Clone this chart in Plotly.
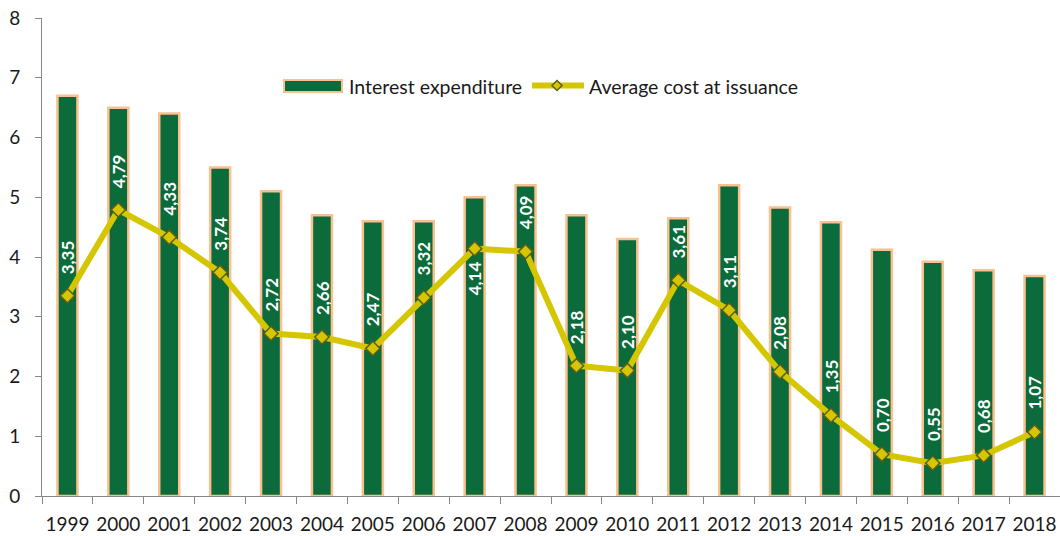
import plotly.graph_objects as go

# Years shown on the category axis
years = [str(y) for y in range(1999, 2019)]

# Interest expenditure (% of GDP)
interest_expenditure = [6.7, 6.5, 6.4, 5.5, 5.1, 4.7, 4.6, 4.6, 5.0, 5.2,
                        4.7, 4.3, 4.65, 5.2, 4.83, 4.58, 4.12, 3.92, 3.78, 3.68]

# Average cost at issuance (%)
average_cost = [3.35, 4.79, 4.33, 3.74, 2.72, 2.66, 2.47, 3.32, 4.14, 4.09,
                2.18, 2.10, 3.61, 3.11, 2.08, 1.35, 0.70, 0.55, 0.68, 1.07]

# Labels that sit under their marker instead of above it
labels_below = {"2007"}

GREEN = "#0B6B3B"
ORANGE = "#FAC08F"
YELLOW = "#D4C600"
OLIVE = "#5C5C1E"
FONT = "Lato"

W, H = 1060, 536
ML, MR, MT, MB = 42, 0, 18, 40
PW, PH = W - ML - MR, H - MT - MB


def px_x(px):
    return (px - ML) / PW


def px_y(py):
    return (H - MB - py) / PH


fig = go.Figure()

fig.add_trace(go.Bar(
    x=years, y=interest_expenditure, name="Interest expenditure",
    marker=dict(color=GREEN, line=dict(color=ORANGE, width=2.5)),
    showlegend=False, hoverinfo="x+y",
))

fig.add_trace(go.Scatter(
    x=years, y=average_cost, name="Average cost at issuance",
    mode="lines+markers",
    line=dict(color=YELLOW, width=6),
    marker=dict(symbol="diamond", size=11, color=YELLOW,
                line=dict(color=OLIVE, width=1.5)),
    showlegend=False, hoverinfo="x+y",
))

annotations = []
for i, (yr, v) in enumerate(zip(years, average_cost)):
    below = yr in labels_below
    annotations.append(dict(
        x=i, y=v, xref="x", yref="y",
        text=f"<b>{v:.2f}</b>".replace(".", ","),
        textangle=-90, showarrow=False,
        xanchor="center", yanchor="top" if below else "bottom",
        yshift=-11 if below else 20,
        font=dict(family=FONT, size=17, color="white"),
    ))

# Legend drawn by hand
annotations.append(dict(
    x=px_x(347), y=px_y(86), xref="paper", yref="paper",
    text="Interest expenditure", showarrow=False,
    xanchor="left", yanchor="middle",
    font=dict(family=FONT, size=19.5, color="#1a1a1a"),
))
annotations.append(dict(
    x=px_x(587), y=px_y(86), xref="paper", yref="paper",
    text="Average cost at issuance", showarrow=False,
    xanchor="left", yanchor="middle",
    font=dict(family=FONT, size=19.5, color="#1a1a1a"),
))

shapes = [
    dict(type="rect", xref="paper", yref="paper",
         x0=px_x(284), x1=px_x(342), y0=px_y(92), y1=px_y(80),
         fillcolor=GREEN, line=dict(color=ORANGE, width=2)),
    dict(type="line", xref="paper", yref="paper",
         x0=px_x(532), x1=px_x(584), y0=px_y(85.5), y1=px_y(85.5),
         line=dict(color=YELLOW, width=6)),
]
cx, cy, d = 557, 85.5, 5
diamond = (f"M {px_x(cx)},{px_y(cy - d)} L {px_x(cx + d)},{px_y(cy)} "
           f"L {px_x(cx)},{px_y(cy + d)} L {px_x(cx - d)},{px_y(cy)} Z")
shapes.append(dict(type="path", xref="paper", yref="paper", path=diamond,
                   fillcolor=YELLOW, line=dict(color=OLIVE, width=1.5)))

fig.update_layout(
    width=W, height=H,
    margin=dict(l=ML, r=MR, t=MT, b=MB, autoexpand=False),
    paper_bgcolor="white", plot_bgcolor="white",
    bargap=0.607,
    font=dict(family=FONT, size=19, color="#1a1a1a"),
    annotations=annotations,
    shapes=shapes,
    xaxis=dict(
        type="category", showgrid=False, zeroline=False,
        showline=True, linecolor="#868686", linewidth=1,
        ticks="outside", tickson="boundaries", ticklen=7,
        tickcolor="#868686", tickfont=dict(size=19, color="#1a1a1a"),
        tickangle=0, automargin=False,
        ticklabelstandoff=11,
        range=[-0.5, 19.5],
    ),
    yaxis=dict(
        range=[0, 8], dtick=1, showgrid=False, zeroline=False,
        showline=True, linecolor="#868686", linewidth=1,
        ticks="outside", ticklen=6, tickcolor="#868686",
        tickfont=dict(size=19, color="#1a1a1a"),
        automargin=False, ticklabelstandoff=11,
    ),
)

fig.write_html("out.html")
